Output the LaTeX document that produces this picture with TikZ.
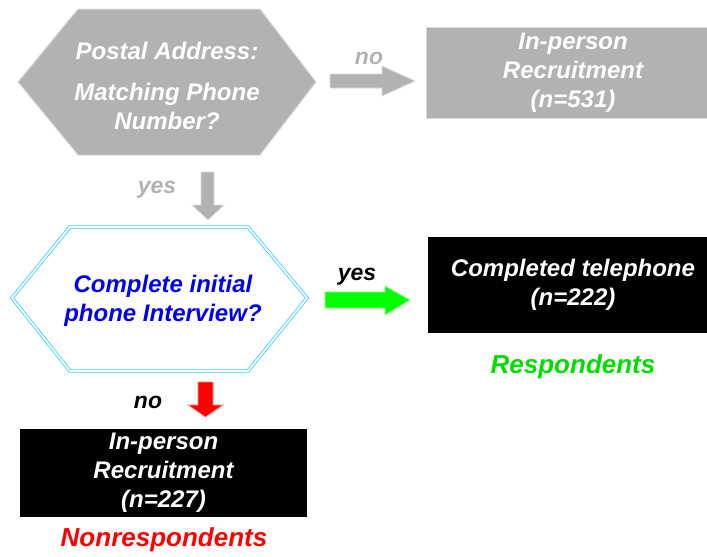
\documentclass[tikz,border=0pt]{standalone}
\usepackage{fontspec}
\setmainfont{Liberation Sans}
\definecolor{boxgray}{RGB}{178,178,178}
\definecolor{edgegray}{RGB}{218,218,218}
\definecolor{hexcyan}{RGB}{51,204,255}
\definecolor{qblue}{RGB}{0,0,238}
\definecolor{arrowgreen}{RGB}{0,255,0}
\definecolor{respgreen}{RGB}{0,221,0}
\tikzset{
  txt/.style={font=\fontsize{24}{29}\selectfont\bfseries\itshape, align=center, inner sep=0pt},
  lbl/.style={font=\fontsize{23}{27}\selectfont\bfseries\itshape, inner sep=0pt},
  grouplbl/.style={font=\fontsize{26}{30}\selectfont\bfseries\itshape, inner sep=0pt},
}
\begin{document}
\begin{tikzpicture}[x=1pt,y=-1pt]
\useasboundingbox (0,0) rectangle (707,557);
% first question
\draw [fill=boxgray, draw=edgegray, line width=1pt] (18,82) -- (78,9) -- (260,9) -- (316,82) -- (260,155) -- (78,155) -- cycle;
\node (postal) at (167,86) [txt, text=white] {Postal Address:\\[12pt]Matching Phone\\Number?};
\node (noone) at (369,58) [lbl, text=boxgray] {no};
\draw [fill=boxgray, draw=edgegray, line width=0.8pt] (330,74) -- (382,74) -- (382,66) -- (415,81) -- (382,96) -- (382,88) -- (330,88) -- cycle;
\node (inperson) at (573,72.5) [fill=boxgray, draw=edgegray, line width=1pt, minimum width=294pt, minimum height=91pt, txt, text=white] {In-person\\Recruitment\\(n=531)};
\node (yesone) at (157,190) [lbl, text=boxgray] {yes};
\draw [fill=boxgray, draw=edgegray, line width=0.8pt] (201,172) -- (214,172) -- (214,205) -- (224,205) -- (208,220) -- (192,205) -- (201,205) -- cycle;
% second question
\draw [draw=hexcyan, double=white, line width=0.8pt, double distance=1.8pt] (12,298) -- (70,227) -- (248,227) -- (307,298) -- (248,371) -- (70,371) -- cycle;
\node (phone) at (163,301) [txt, text=qblue] {Complete initial\\phone Interview?};
\node (yestwo) at (357,277) [lbl] {yes};
\draw [fill=arrowgreen, draw=green!45!white, line width=0.8pt] (325,292) -- (385,292) -- (385,286) -- (410,300) -- (385,315) -- (385,308) -- (325,308) -- cycle;
\node (telephone) at (573,285) [fill=black, minimum width=290pt, minimum height=96pt, txt, text=white] {Completed telephone\\(n=222)};
\node (resp) at (573,367) [grouplbl, text=respgreen] {Respondents};
\node (notwo) at (148,402) [lbl] {no};
\draw [fill=red, draw=red!45!white, line width=0.8pt] (198,382) -- (213,382) -- (213,405) -- (223,405) -- (205.5,417) -- (188,405) -- (198,405) -- cycle;
\node (recruit) at (163.5,473) [fill=black, minimum width=287pt, minimum height=88pt, txt, text=white] {In-person\\Recruitment\\(n=227)};
\node (nonresp) at (164,540) [grouplbl, text=red] {Nonrespondents};
\end{tikzpicture}
\end{document}
